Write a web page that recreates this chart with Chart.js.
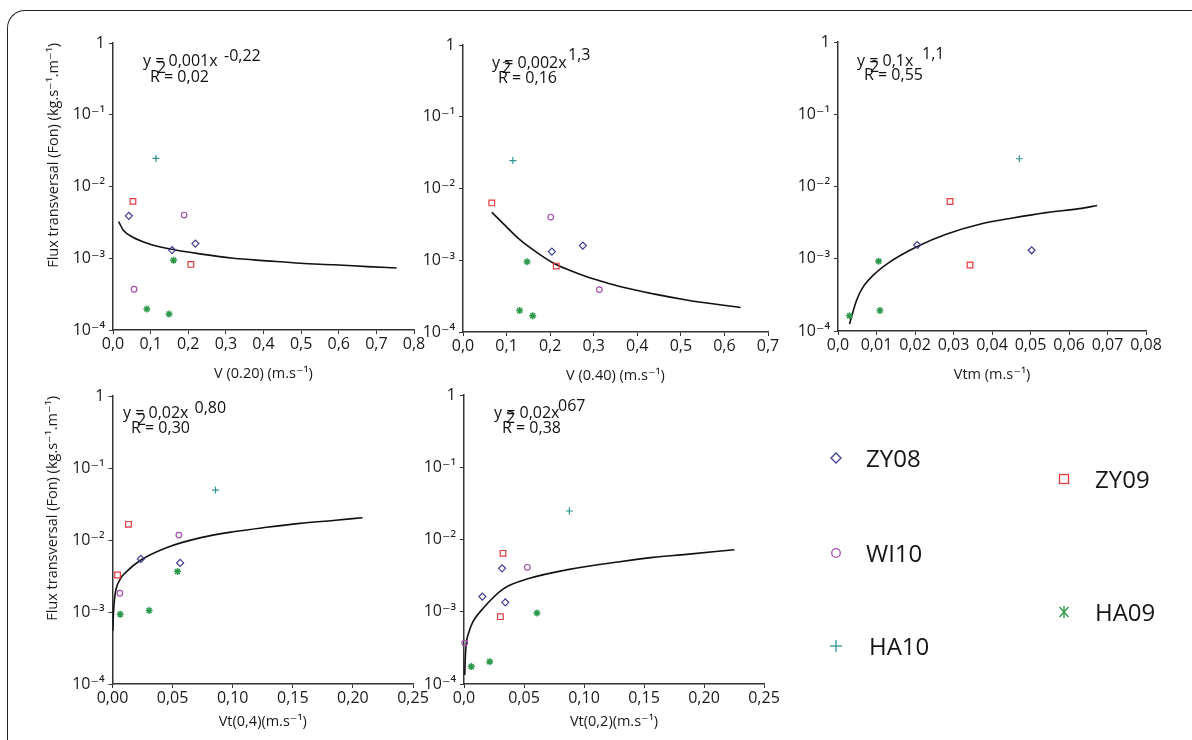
<!DOCTYPE html>
<html>
<head>
<meta charset="utf-8">
<script src="https://cdn.jsdelivr.net/npm/chart.js@4.4.1/dist/chart.umd.min.js"></script>
<style>
html,body{margin:0;padding:0;background:#fff;width:1192px;height:740px;overflow:hidden;position:relative;}
canvas{position:absolute;left:0;top:0;}
#frame{position:absolute;left:7px;top:10px;width:1200px;height:760px;border-top:1.5px solid #222;border-left:1.5px solid #222;border-top-left-radius:18px;box-sizing:border-box;}
.leg{position:absolute;font-family:"Open Sans","DejaVu Sans",sans-serif;font-size:24px;color:#151515;display:flex;align-items:center;height:32px;line-height:32px;}
.leg svg{width:16px;height:16px;flex:none;}
</style>
</head>
<body>
<div id="frame"></div>
<canvas id="c1" width="1192" height="740"></canvas>
<canvas id="c2" width="1192" height="740"></canvas>
<canvas id="c3" width="1192" height="740"></canvas>
<canvas id="c4" width="1192" height="740"></canvas>
<canvas id="c5" width="1192" height="740"></canvas>

<div class="leg" style="left:828px;top:442px;"><svg viewBox="0 0 16 16"><polygon points="8,3 13,8 8,13 3,8" fill="none" stroke="#3c3c90" stroke-width="1.3"/></svg><span style="margin-left:22px">ZY08</span></div>
<div class="leg" style="left:1056px;top:463px;"><svg viewBox="0 0 16 16"><rect x="3.5" y="3.5" width="9" height="9" fill="none" stroke="#e23a3f" stroke-width="1.3"/></svg><span style="margin-left:23px">ZY09</span></div>
<div class="leg" style="left:828px;top:537px;"><svg viewBox="0 0 16 16"><circle cx="8" cy="8" r="4.3" fill="none" stroke="#a24fab" stroke-width="1.3"/></svg><span style="margin-left:22px">WI10</span></div>
<div class="leg" style="left:1056px;top:596px;"><svg viewBox="0 0 16 16"><g stroke="#2d9a4e" stroke-width="1.4"><line x1="3.5" y1="3" x2="12.5" y2="13"/><line x1="12.5" y1="3" x2="3.5" y2="13"/><line x1="8" y1="2" x2="8" y2="14"/></g></svg><span style="margin-left:23px">HA09</span></div>
<div class="leg" style="left:828px;top:630px;"><svg viewBox="0 0 16 16"><g stroke="#2f9393" stroke-width="1.3"><line x1="8" y1="2" x2="8" y2="14"/><line x1="2" y1="8" x2="14" y2="8"/></g></svg><span style="margin-left:25px">HA10</span></div>

<script>
// ---------- shared axis ticks ----------
const yTickValues = [1e-4, 1e-3, 1e-2, 1e-1, 1];
const yTickLabels = ['10⁻⁴', '10⁻³', '10⁻²', '10⁻¹', '1'];
const yTitle = 'Flux transversal (Fon) (kg.s⁻¹.m⁻¹)';

// ---------- Panel 1 : V (0.20) ----------
const p1TickValues = [0, 0.1, 0.2, 0.3, 0.4, 0.5, 0.6, 0.7, 0.8];
const p1TickLabels = ['0,0','0,1','0,2','0,3','0,4','0,5','0,6','0,7','0,8'];
const p1_ZY08_x = [0.042, 0.157, 0.219];
const p1_ZY08_y = [0.0039, 0.0013, 0.0016];
const p1_ZY09_x = [0.053, 0.207];
const p1_ZY09_y = [0.0062, 0.00082];
const p1_WI10_x = [0.056, 0.189];
const p1_WI10_y = [0.00037, 0.0040];
const p1_HA09_x = [0.090, 0.149, 0.161];
const p1_HA09_y = [0.000196, 0.000167, 0.00094];
const p1_HA10_x = [0.114];
const p1_HA10_y = [0.0246];
const p1_fit_x = [0.015, 0.027, 0.053, 0.098, 0.142, 0.231, 0.320, 0.409, 0.498, 0.587, 0.676, 0.754];
const p1_fit_y = [3.25e-3, 2.48e-3, 1.96e-3, 1.57e-3, 1.38e-3, 1.15e-3, 1.0e-3, 9.2e-4, 8.5e-4, 8.1e-4, 7.65e-4, 7.3e-4];

// ---------- Panel 2 : V (0.40) ----------
const p2TickValues = [0, 0.1, 0.2, 0.3, 0.4, 0.5, 0.6, 0.7];
const p2TickLabels = ['0,0','0,1','0,2','0,3','0,4','0,5','0,6','0,7'];
const p2_ZY08_x = [0.204, 0.275];
const p2_ZY08_y = [0.00132, 0.0016];
const p2_ZY09_x = [0.066, 0.214];
const p2_ZY09_y = [0.0063, 0.00083];
const p2_WI10_x = [0.2015, 0.313];
const p2_WI10_y = [0.0040, 0.00039];
const p2_HA09_x = [0.130, 0.147, 0.160];
const p2_HA09_y = [0.000199, 0.00095, 0.000169];
const p2_HA10_x = [0.1145];
const p2_HA10_y = [0.0245];
const p2_fit_x = [0.066, 0.093, 0.131, 0.170, 0.208, 0.246, 0.284, 0.322, 0.360, 0.437, 0.513, 0.589, 0.637];
const p2_fit_y = [4.66e-3, 3.21e-3, 1.92e-3, 1.28e-3, 9.1e-4, 7.2e-4, 5.9e-4, 5.0e-4, 4.3e-4, 3.4e-4, 2.8e-4, 2.4e-4, 2.2e-4];

// ---------- Panel 3 : Vtm ----------
const p3TickValues = [0, 0.01, 0.02, 0.03, 0.04, 0.05, 0.06, 0.07, 0.08];
const p3TickLabels = ['0,0','0,01','0,02','0,03','0,04','0,05','0,06','0,07','0,08'];
const p3_ZY08_x = [0.0206, 0.0503];
const p3_ZY08_y = [0.00155, 0.00131];
const p3_ZY09_x = [0.0291, 0.0343];
const p3_ZY09_y = [0.0062, 0.00082];
const p3_WI10_x = [];
const p3_WI10_y = [];
const p3_HA09_x = [0.0030, 0.01055, 0.0109];
const p3_HA09_y = [0.000163, 0.00092, 0.000192];
const p3_HA10_x = [0.0471];
const p3_HA10_y = [0.0242];
const p3_fit_x = [0.0030, 0.0048, 0.0065, 0.0100, 0.0134, 0.0206, 0.0281, 0.0368, 0.0454, 0.0541, 0.0627, 0.0673];
const p3_fit_y = [1.25e-4, 2.64e-4, 4.04e-4, 6.5e-4, 9.0e-4, 1.48e-3, 2.18e-3, 3.0e-3, 3.67e-3, 4.35e-3, 4.94e-3, 5.45e-3];

// ---------- Panel 4 : Vt(0,4) ----------
const p4TickValues = [0, 0.05, 0.10, 0.15, 0.20, 0.25];
const p4TickLabels = ['0,00','0,05','0,10','0,15','0,20','0,25'];
const p4_ZY08_x = [0.0236, 0.0563];
const p4_ZY08_y = [0.00546, 0.0048];
const p4_ZY09_x = [0.0042, 0.0133];
const p4_ZY09_y = [0.00327, 0.0165];
const p4_WI10_x = [0.0061, 0.0552];
const p4_WI10_y = [0.00182, 0.0117];
const p4_HA09_x = [0.0064, 0.0305, 0.0541];
const p4_HA09_y = [0.000933, 0.00105, 0.00364];
const p4_HA10_x = [0.0857];
const p4_HA10_y = [0.0493];
const p4_fit_x = [0.0003, 0.0008, 0.0019, 0.0061, 0.0117, 0.0236, 0.0449, 0.0727, 0.1004, 0.1281, 0.1559, 0.1836, 0.2080];
const p4_fit_y = [5.5e-4, 9.6e-4, 1.64e-3, 2.79e-3, 3.64e-3, 5.28e-3, 7.83e-3, 1.07e-2, 1.30e-2, 1.50e-2, 1.70e-2, 1.87e-2, 2.04e-2];

// ---------- Panel 5 : Vt(0,2) ----------
const p5TickValues = [0, 0.05, 0.10, 0.15, 0.20, 0.25];
const p5TickLabels = ['0,0','0,05','0,10','0,15','0,20','0,25'];
const p5_ZY08_x = [0.0153, 0.0317, 0.0344];
const p5_ZY08_y = [0.00162, 0.00399, 0.00135];
const p5_ZY09_x = [0.0303, 0.0325];
const p5_ZY09_y = [0.000855, 0.00644];
const p5_WI10_x = [0.0006, 0.0528];
const p5_WI10_y = [0.000369, 0.00412];
const p5_HA09_x = [0.0061, 0.0214, 0.0608];
const p5_HA09_y = [0.000174, 0.000204, 0.000961];
const p5_HA10_x = [0.0878];
const p5_HA10_y = [0.0248];
const p5_fit_x = [0.0006, 0.0011, 0.0019, 0.0042, 0.0075, 0.0158, 0.0325, 0.0547, 0.0878, 0.1297, 0.1575, 0.1853, 0.2253];
const p5_fit_y = [1.33e-4, 2.39e-4, 3.66e-4, 5.3e-4, 7.29e-4, 1.11e-3, 2.06e-3, 2.90e-3, 3.86e-3, 4.93e-3, 5.66e-3, 6.23e-3, 7.23e-3];

// ---------- styles ----------
const FONT = '"Open Sans", "DejaVu Sans", sans-serif';
const seriesStyle = {
  ZY08: {pointStyle: 'rectRot', radius: 3.5, color: '#3c3c90', bw: 1.2},
  ZY09: {pointStyle: 'rect', radius: 4, color: '#e23a3f', bw: 1.2},
  WI10: {pointStyle: 'circle', radius: 2.8, color: '#a24fab', bw: 1.2},
  HA09: {pointStyle: 'star', radius: 3.5, color: '#2d9a4e', bw: 1.5},
  HA10: {pointStyle: 'cross', radius: 3.5, color: '#2f9393', bw: 1.2}
};

function pts(xs, ys) { return xs.map((x, i) => ({x: x, y: ys[i]})); }

const panels = [
  {id: 'c1', area: {l: 113, t: 43, r: 414, b: 330}, xh: 56, xMax: 0.8, tv: p1TickValues, tl: p1TickLabels,
   xTitle: 'V (0.20) (m.s⁻¹)', showY: true,
   series: {ZY08: [p1_ZY08_x, p1_ZY08_y], ZY09: [p1_ZY09_x, p1_ZY09_y], WI10: [p1_WI10_x, p1_WI10_y], HA09: [p1_HA09_x, p1_HA09_y], HA10: [p1_HA10_x, p1_HA10_y]},
   fit: [p1_fit_x, p1_fit_y],
   eq: [['y = 0,001x', 30, 23], ['-0,22', 111, 18], ['R = 0,02', 37, 39], ['2', 44, 30]]},
  {id: 'c2', area: {l: 463, t: 45, r: 768, b: 332}, xh: 56, xMax: 0.7, tv: p2TickValues, tl: p2TickLabels,
   xTitle: 'V (0.40) (m.s⁻¹)', showY: false,
   series: {ZY08: [p2_ZY08_x, p2_ZY08_y], ZY09: [p2_ZY09_x, p2_ZY09_y], WI10: [p2_WI10_x, p2_WI10_y], HA09: [p2_HA09_x, p2_HA09_y], HA10: [p2_HA10_x, p2_HA10_y]},
   fit: [p2_fit_x, p2_fit_y],
   eq: [['y = 0,002x', 29, 23], ['1,3', 105, 15], ['R = 0,16', 35, 38], ['2', 39, 28]]},
  {id: 'c3', area: {l: 838, t: 42, r: 1146, b: 331}, xh: 56, xMax: 0.08, tv: p3TickValues, tl: p3TickLabels,
   xTitle: 'Vtm (m.s⁻¹)', showY: false,
   series: {ZY08: [p3_ZY08_x, p3_ZY08_y], ZY09: [p3_ZY09_x, p3_ZY09_y], WI10: [p3_WI10_x, p3_WI10_y], HA09: [p3_HA09_x, p3_HA09_y], HA10: [p3_HA10_x, p3_HA10_y]},
   fit: [p3_fit_x, p3_fit_y],
   eq: [['y = 0,1x', 19, 24], ['1,1', 84, 17], ['R = 0,55', 26, 38], ['2', 32, 30]]},
  {id: 'c4', area: {l: 112.5, t: 396, r: 413, b: 684}, xh: 50, xMax: 0.25, tv: p4TickValues, tl: p4TickLabels,
   xTitle: 'Vt(0,4)(m.s⁻¹)', showY: true,
   series: {ZY08: [p4_ZY08_x, p4_ZY08_y], ZY09: [p4_ZY09_x, p4_ZY09_y], WI10: [p4_WI10_x, p4_WI10_y], HA09: [p4_HA09_x, p4_HA09_y], HA10: [p4_HA10_x, p4_HA10_y]},
   fit: [p4_fit_x, p4_fit_y],
   eq: [['y = 0,02x', 10.5, 22], ['0,80', 82, 17], ['R = 0,30', 18.5, 37], ['2', 24.5, 29]]},
  {id: 'c5', area: {l: 464, t: 395, r: 764, b: 684}, xh: 50, xMax: 0.25, tv: p5TickValues, tl: p5TickLabels,
   xTitle: 'Vt(0,2)(m.s⁻¹)', showY: false,
   series: {ZY08: [p5_ZY08_x, p5_ZY08_y], ZY09: [p5_ZY09_x, p5_ZY09_y], WI10: [p5_WI10_x, p5_WI10_y], HA09: [p5_HA09_x, p5_HA09_y], HA10: [p5_HA10_x, p5_HA10_y]},
   fit: [p5_fit_x, p5_fit_y],
   eq: [['y = 0,02x', 30, 23], ['067', 94, 16], ['R = 0,38', 38, 38], ['2', 42, 28]]}
];

const YW = 70;

panels.forEach(p => {
  const datasets = [];
  Object.keys(p.series).forEach(name => {
    const st = seriesStyle[name];
    datasets.push({
      label: name,
      data: pts(p.series[name][0], p.series[name][1]),
      pointStyle: st.pointStyle,
      pointRadius: st.radius,
      pointBorderColor: st.color,
      pointBackgroundColor: 'rgba(0,0,0,0)',
      pointBorderWidth: st.bw,
      borderColor: st.color,
      showLine: false,
      clip: false,
      order: 1
    });
  });
  datasets.push({
    label: 'fit',
    data: pts(p.fit[0], p.fit[1]),
    showLine: true,
    borderColor: '#111',
    borderWidth: 1.6,
    pointRadius: 0,
    cubicInterpolationMode: 'monotone',
    fill: false,
    order: 2
  });

  const eqPlugin = {
    id: 'eq_' + p.id,
    afterDraw(chart) {
      const ctx = chart.ctx, a = chart.chartArea;
      ctx.save();
      ctx.font = '16px ' + FONT;
      ctx.fillStyle = '#111';
      ctx.textBaseline = 'alphabetic';
      ctx.textAlign = 'left';
      p.eq.forEach(e => ctx.fillText(e[0], a.left + e[1], a.top + e[2]));
      ctx.restore();
    }
  };

  new Chart(document.getElementById(p.id), {
    type: 'scatter',
    data: {datasets: datasets},
    options: {
      responsive: false,
      animation: false,
      devicePixelRatio: 1,
      events: [],
      layout: {padding: {left: p.area.l - YW, top: p.area.t, right: 1192 - p.area.r, bottom: 740 - p.area.b - p.xh}},
      plugins: {legend: {display: false}, tooltip: {enabled: false}},
      scales: {
        x: {
          type: 'linear', min: 0, max: p.xMax,
          afterBuildTicks: s => { s.ticks = p.tv.map(v => ({value: v})); },
          afterFit: s => { s.height = p.xh; s.paddingLeft = 0; s.paddingRight = 0; },
          ticks: {autoSkip: false, maxRotation: 0, padding: 1, color: '#1a1a1a',
                  font: {family: FONT, size: 16},
                  callback: (v, i) => p.tl[i]},
          grid: {drawOnChartArea: false, drawTicks: true, tickLength: 4, color: '#333', lineWidth: 1},
          border: {display: true, color: '#333', width: 1.5},
          title: {display: true, text: p.xTitle, color: '#1a1a1a', font: {family: FONT, size: 14.5},
                  padding: {top: 0, bottom: 3}}
        },
        y: {
          type: 'logarithmic', min: 1e-4, max: 1,
          afterBuildTicks: s => { s.ticks = yTickValues.map(v => ({value: v, major: true})); },
          afterFit: s => { s.width = YW; s.paddingTop = 0; s.paddingBottom = 0; },
          ticks: {autoSkip: false, padding: 4, color: '#1a1a1a', font: {family: FONT, size: 16},
                  callback: (v, i) => yTickLabels[i]},
          grid: {drawOnChartArea: false, drawTicks: true, tickLength: 4, color: '#333', lineWidth: 1},
          border: {display: true, color: '#333', width: 1.5},
          title: {display: p.showY, text: yTitle, align: 'end', color: '#1a1a1a',
                  font: {family: FONT, size: 14.5}, padding: {top: 2, bottom: 0}}
        }
      }
    },
    plugins: [eqPlugin]
  });
});
</script>
</body>
</html>
